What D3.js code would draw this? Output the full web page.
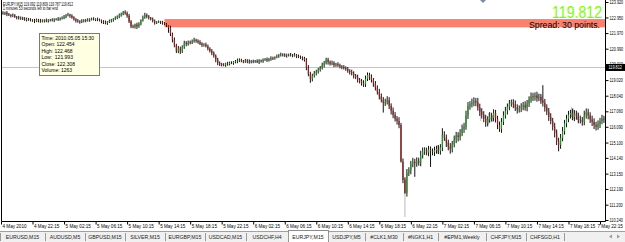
<!DOCTYPE html>
<html lang="en">
<head>
<meta charset="UTF-8">
<title>EURJPY,M15</title>
<script src="https://d3js.org/d3.v7.min.js"></script>
<style>
  html, body { margin: 0; padding: 0; background: #fff; }
  svg { display: block; font-family: "Liberation Sans", Arial, sans-serif; }
</style>
</head>
<body>
<div id="chart"></div>
<script>
const width = 625, height = 242;

// M15 bars, 4 May 18:15 .. 7 May 22:45 (open of each bar = previous close)
const firstOpen = 123.20;
const closes = [
  123.22,123.18,123.25,123.15,123.10,123.05,123.08,122.98,122.95,122.90,122.93,122.85,122.82,122.86,122.80,122.78,
  122.76,122.72,122.80,122.74,122.70,122.75,122.78,122.73,122.76,122.80,122.78,122.82,122.85,122.83,122.88,122.92,
  123.00,123.08,123.12,123.05,122.95,122.85,122.75,122.70,122.66,122.72,122.78,122.75,122.80,122.84,122.86,122.82,
  122.84,122.80,122.76,122.70,122.64,122.60,122.66,122.72,122.78,122.85,122.92,123.00,123.08,123.15,123.28,123.22,
  123.05,122.70,122.40,122.35,122.50,122.38,122.55,122.75,122.95,123.10,123.02,122.92,122.85,122.74,122.62,122.66,
  122.68,122.64,122.58,122.52,122.454,122.308,121.90,121.55,121.20,120.85,121.00,120.82,121.10,121.35,121.28,121.40,
  121.38,121.45,121.54,121.48,121.40,121.30,121.22,121.25,121.15,121.00,120.85,120.72,120.55,120.30,120.09,120.02,
  119.98,119.97,120.05,120.02,120.10,120.08,120.15,120.20,120.25,120.28,120.22,120.18,120.25,120.20,120.15,120.22,
  120.18,120.22,120.15,120.25,120.20,120.28,120.32,120.26,120.35,120.41,120.38,120.45,120.52,120.58,120.62,120.60,
  120.55,120.60,120.62,120.58,120.55,120.60,120.52,120.48,120.45,120.38,120.28,119.80,119.40,119.10,119.30,119.45,
  119.55,119.65,119.80,119.95,120.10,120.30,120.15,120.05,120.10,119.97,120.02,119.95,119.88,119.84,119.78,119.72,
  119.60,119.53,119.45,119.30,119.20,119.03,118.95,118.85,118.75,119.10,119.34,119.20,119.03,118.80,118.55,118.27,
  118.00,117.80,117.58,117.65,117.77,117.40,117.10,116.83,116.60,116.45,116.20,113.90,112.75,111.95,113.20,113.35,
  113.75,113.90,113.80,113.95,113.85,114.30,114.55,114.60,114.48,114.65,114.55,114.50,114.62,114.70,114.58,114.80,
  115.57,115.40,115.10,114.85,114.70,115.00,115.30,115.55,115.45,115.70,115.95,116.10,116.80,117.40,117.50,117.60,
  117.70,117.62,117.30,117.05,116.85,116.60,116.35,116.55,116.75,116.65,116.95,116.60,116.20,115.95,116.40,116.80,
  117.10,117.35,117.55,117.62,117.50,117.30,117.18,117.25,117.35,117.45,117.30,117.55,117.80,118.00,117.95,118.05,
  117.90,117.95,117.75,117.60,117.30,117.05,116.70,116.45,116.10,115.70,115.20,114.95,115.40,115.80,116.30,116.60,
  116.85,116.95,116.70,116.90,116.75,116.55,116.50,116.40,116.80,117.00,116.80,116.55,116.40,116.20,116.10,116.25,
  116.45,116.60,116.55
];
// upper / lower shadow length of each bar, in hundredths of a yen
const wickUp = [
  8,12,6,10,8,6,12,8,6,10,8,6,12,8,6,10,  6,10,8,6,12,8,6,10,8,6,10,8,6,12,8,10,
  10,8,12,6,10,8,6,10,8,12,6,8,10,6,8,10,  6,10,8,6,8,12,6,10,8,6,10,8,12,10,8,12,
  10,12,8,10,6,12,10,8,12,14,10,8,6,10,8,6,  8,6,10,8,8,1,12,10,14,10,16,12,10,14,12,10,
  10,12,14,8,10,12,10,8,12,10,8,12,10,8,12,10,  8,10,6,12,8,10,6,8,12,10,8,6,10,8,12,6,
  8,6,10,8,6,10,8,12,6,10,8,6,10,8,12,8,  10,8,6,10,8,12,6,10,8,6,10,12,16,14,12,14,
  12,14,10,16,12,12,12,10,14,10,8,12,10,8,12,10,  12,10,14,12,10,16,12,14,16,20,16,14,18,12,16,14,
  20,18,16,20,24,18,16,20,18,16,24,13,20,16,24,20,  20,24,18,22,20,28,24,20,18,24,20,18,22,20,24,20,
  43,24,20,18,22,20,24,22,20,24,28,24,30,24,20,26,  24,20,28,24,20,22,24,20,26,22,24,20,18,22,24,26,
  24,20,22,18,20,24,20,18,22,20,24,22,20,24,22,20,  24,22,20,95,24,20,22,24,20,24,22,20,24,28,22,24,
  24,20,28,24,20,22,24,20,30,24,22,20,24,22,20,24,  20,24,18
];
const wickDown = [
  10,6,8,12,6,10,8,6,12,8,10,6,8,12,6,8,  8,12,6,10,8,6,12,8,10,6,8,12,6,10,8,6,
  8,10,6,12,8,10,12,8,10,6,8,10,6,12,8,6,  10,8,6,12,10,8,12,6,8,10,6,8,10,8,6,10,
  12,10,12,8,10,16,8,10,6,8,12,10,8,10,12,8,  6,10,8,6,10,32,12,16,12,13,14,16,10,12,14,10,
  12,10,8,12,10,8,12,10,8,12,10,14,12,16,14,12,  10,8,12,10,8,6,10,8,12,10,8,10,8,12,10,8,
  10,8,6,12,8,10,6,10,8,12,10,8,6,10,8,10,  8,12,10,8,10,6,12,8,10,12,10,16,14,25,16,12,
  14,12,10,12,14,10,16,12,10,14,12,10,12,14,10,12,  12,16,14,18,12,16,14,18,16,16,14,18,16,20,18,16,
  20,18,60,18,16,20,24,20,18,22,20,5,20,152,24,20,  24,20,85,22,20,24,20,22,18,24,98,20,24,22,20,24,
  24,20,28,24,30,22,20,24,28,22,20,24,20,22,24,20,  22,24,20,28,24,22,26,24,20,24,22,24,26,18,24,20,
  20,24,22,20,24,22,26,20,24,22,20,24,22,20,24,22,  24,20,22,24,26,22,24,20,24,28,26,40,24,22,20,24,
  22,24,20,26,22,24,20,24,22,20,24,22,26,25,24,20,  24,20,22
];
const grayWick = [205];
// light grey shadow bars: [bar index, high, low]
const ghostBars = [[221,114.95,114.40],[243,117.25,116.45],[247,116.95,116.25],[249,116.85,116.40],
  [272,118.15,117.80],[274,118.05,117.60],[289,117.35,116.70],[290,117.25,116.55],[292,117.00,116.50]];

const timeIdx = [0,16,32,48,64,80,96,112,128,144,160,176,192,208,224,240,256,272,288,304];
const timeLabels = ["4 May 2010","4 May 22:15","5 May 02:15","5 May 06:15","5 May 10:15","5 May 14:15",
  "5 May 18:15","5 May 22:15","6 May 02:15","6 May 06:15","6 May 10:15","6 May 14:15","6 May 18:15",
  "6 May 22:15","7 May 02:15","7 May 06:15","7 May 10:15","7 May 14:15","7 May 18:15","7 May 22:15"];
const priceTicks = [123.92,122.95,121.97,120.99,120.01,119.02,118.04,117.06,116.09,115.10,114.14,113.15,112.19,111.20,110.24];
const lastPrice = 119.812;
const spreadTop = 122.85, spreadBottom = 122.33, spreadFrom = 83;

const tabs = ["EURUSD,M15","AUDUSD,M5","GBPUSD,M15","SILVER,M15","EURGBP,M15","USDCAD,M15","USDCHF,H4",
  "EURJPY,M15","USDJPY,M5","#CLK1,M30","#NGK1,H1","#EPM1,Weekly","CHFJPY,M15","CHFSGD,H1"];
const tabEdges = [0,45,85,125,165,205,246,288,328,365,403,438,486,526,564];
const activeTab = "EURJPY,M15";
const tipLines = ["Time: 2010.05.05 15:30","Open: 122.454","High: 122.468","Low:  121.993","Close: 122.308","Volume: 1263"];

const svg = d3.select("#chart").append("svg")
  .attr("width", width).attr("height", height);

const plotRight = 605, plotBottom = 221;
const x = d3.scaleLinear().domain([0, 304]).range([1, 600]);
const y = d3.scaleLinear().domain([110.24, 123.92]).range([220, 2]);

const bars = closes.map((c, i) => {
  const o = i === 0 ? firstOpen : closes[i - 1];
  return { i, o, c, h: Math.max(o, c) + wickUp[i] / 100, l: Math.min(o, c) - wickDown[i] / 100 };
});

svg.append("clipPath").attr("id", "plot")
  .append("rect").attr("x", 2).attr("y", 0).attr("width", plotRight - 2).attr("height", plotBottom);

const plot = svg.append("g").attr("clip-path", "url(#plot)");

// spread band
plot.append("rect")
  .attr("x", x(spreadFrom)).attr("y", y(spreadTop))
  .attr("width", plotRight - x(spreadFrom)).attr("height", y(spreadBottom) - y(spreadTop))
  .attr("fill", "#f8826f");

// bid line
plot.append("line")
  .attr("x1", 2).attr("x2", plotRight).attr("y1", Math.round(y(lastPrice)) + 0.5).attr("y2", Math.round(y(lastPrice)) + 0.5)
  .attr("stroke", "#bcc6d2").attr("stroke-width", 1);

// ghost bars
plot.selectAll(".ghost").data(ghostBars).join("line")
  .attr("x1", d => x(d[0]) + 1).attr("x2", d => x(d[0]) + 1)
  .attr("y1", d => y(d[1])).attr("y2", d => y(d[2]))
  .attr("stroke", "#c8c8c8").attr("stroke-width", 1.2);

// candles
const candle = plot.selectAll(".bar").data(bars).join("g");
candle.append("line")
  .attr("x1", d => x(d.i)).attr("x2", d => x(d.i))
  .attr("y1", d => y(d.h)).attr("y2", d => y(d.l))
  .attr("stroke", d => grayWick.includes(d.i) ? "#b8b8b8" : "#111").attr("stroke-width", 1);
candle.filter(d => grayWick.includes(d.i)).append("line")
  .attr("x1", d => x(d.i)).attr("x2", d => x(d.i))
  .attr("y1", d => y(d.h)).attr("y2", d => y(Math.min(d.o, d.c)) + 1)
  .attr("stroke", "#111").attr("stroke-width", 1);
candle.append("rect")
  .attr("x", d => x(d.i) - 0.6).attr("width", 1.2)
  .attr("y", d => y(Math.max(d.o, d.c)))
  .attr("height", d => Math.max(0.6, Math.abs(y(d.o) - y(d.c))))
  .attr("fill", d => d.c > d.o ? "#239a23" : (d.c < d.o ? "#9b1c1c" : "#111"));

// chart frame
svg.append("path")
  .attr("d", `M1.5,0V${plotBottom + 0.5}H${plotRight + 0.5}V0`)
  .attr("fill", "none").attr("stroke", "#000").attr("stroke-width", 1);

// price axis (labels squeezed horizontally to fit the narrow margin)
const yAxis = svg.append("g")
  .attr("transform", `translate(${plotRight + 0.5},0)`)
  .call(d3.axisRight(y).tickValues(priceTicks).tickSize(3).tickFormat(d3.format(".3f")));
yAxis.select(".domain").remove();
yAxis.selectAll("line").attr("stroke", "#000");
yAxis.selectAll("text").attr("x", 4 / 0.76).attr("font-size", 5).attr("font-family", "Liberation Sans")
  .attr("fill", "#000").attr("transform", "scale(0.76,1)");

// last price label
svg.append("rect").attr("x", plotRight + 1).attr("y", y(lastPrice) - 3.5).attr("width", 19).attr("height", 7).attr("fill", "#000");
svg.append("text").attr("transform", `translate(${plotRight + 3.5},${y(lastPrice) + 2}) scale(0.76,1)`)
  .attr("font-size", 5).attr("fill", "#fff").text(lastPrice.toFixed(3));

// time axis
const xAxis = svg.append("g")
  .attr("transform", `translate(0,${plotBottom + 0.5})`)
  .call(d3.axisBottom(x).tickValues(timeIdx).tickSize(3).tickFormat((d, i) => timeLabels[i]));
xAxis.select(".domain").remove();
xAxis.selectAll("line").attr("stroke", "#000");
xAxis.selectAll("text")
  .attr("text-anchor", "start").attr("x", (d) => Math.min(1, 597 - x(d)))
  .attr("y", 3).attr("dy", "0.75em")
  .attr("font-size", 4.6).attr("font-family", "Liberation Sans").attr("fill", "#000");

// header texts
svg.append("text").attr("x", 3).attr("y", 5.5).attr("font-size", 5).attr("textLength", 70)
  .attr("lengthAdjust", "spacingAndGlyphs").text("EURJPY,M15  119.092 119.809 119.787 119.812");
svg.append("text").attr("x", 3).attr("y", 10).attr("font-size", 5).attr("textLength", 55)
  .attr("lengthAdjust", "spacingAndGlyphs").text("1 minutes 53 seconds left to bar end");

svg.append("text").attr("x", 602).attr("y", 18).attr("text-anchor", "end")
  .attr("font-size", 16.5).attr("fill", "#7cfc00").attr("textLength", 50)
  .attr("lengthAdjust", "spacingAndGlyphs").text(lastPrice.toFixed(3));
svg.append("text").attr("x", 600).attr("y", 28).attr("text-anchor", "end")
  .attr("font-size", 8.5).attr("fill", "#000").attr("textLength", 71)
  .attr("lengthAdjust", "spacingAndGlyphs").text("Spread: 30 points.");

// chart shift marker
svg.append("path").attr("d", "M480,0L486,0L483,3Z").attr("fill", "#7d8aa3");

// tooltip
const tip = svg.append("g");
tip.append("rect").attr("x", 39.5).attr("y", 33.5).attr("width", 60).attr("height", 42)
  .attr("fill", "#ffffe1").attr("stroke", "#7a7a7a");
tip.selectAll("text").data(tipLines).join("text")
  .attr("x", 41.5).attr("y", (d, i) => 40 + i * 6.4)
  .attr("font-size", 5).attr("fill", "#000")
  .attr("xml:space", "preserve").text(d => d);

// symbol tabs
const tabBar = svg.append("g");
tabBar.append("rect").attr("x", 0).attr("y", 231).attr("width", width).attr("height", 11).attr("fill", "#f0f0f0");
tabBar.append("line").attr("x1", 0).attr("x2", width).attr("y1", 231.5).attr("y2", 231.5).attr("stroke", "#a0a0a0");
const ai = tabs.indexOf(activeTab);
tabBar.append("rect").attr("x", tabEdges[ai] + 0.5).attr("y", 230.5)
  .attr("width", tabEdges[ai + 1] - tabEdges[ai]).attr("height", 12)
  .attr("fill", "#fff").attr("stroke", "#8c8c8c");
tabBar.selectAll(".sep").data(tabEdges).join("line")
  .attr("x1", d => d + 0.5).attr("x2", d => d + 0.5).attr("y1", 233).attr("y2", 241)
  .attr("stroke", "#9a9a9a");
tabBar.selectAll(".tab").data(tabs).join("text")
  .attr("x", (d, i) => (tabEdges[i] + (tabEdges[i + 1] || tabEdges[i] + 40)) / 2)
  .attr("y", 239).attr("text-anchor", "middle").attr("font-size", 5.2).attr("fill", "#222")
  .text(d => d);
tabBar.append("path").attr("d", "M609,236.5L612,234.5V238.5Z").attr("fill", "#9a9a9a");
tabBar.append("path").attr("d", "M620,236.5L617,234.5V238.5Z").attr("fill", "#9a9a9a");
</script>
</body>
</html>
